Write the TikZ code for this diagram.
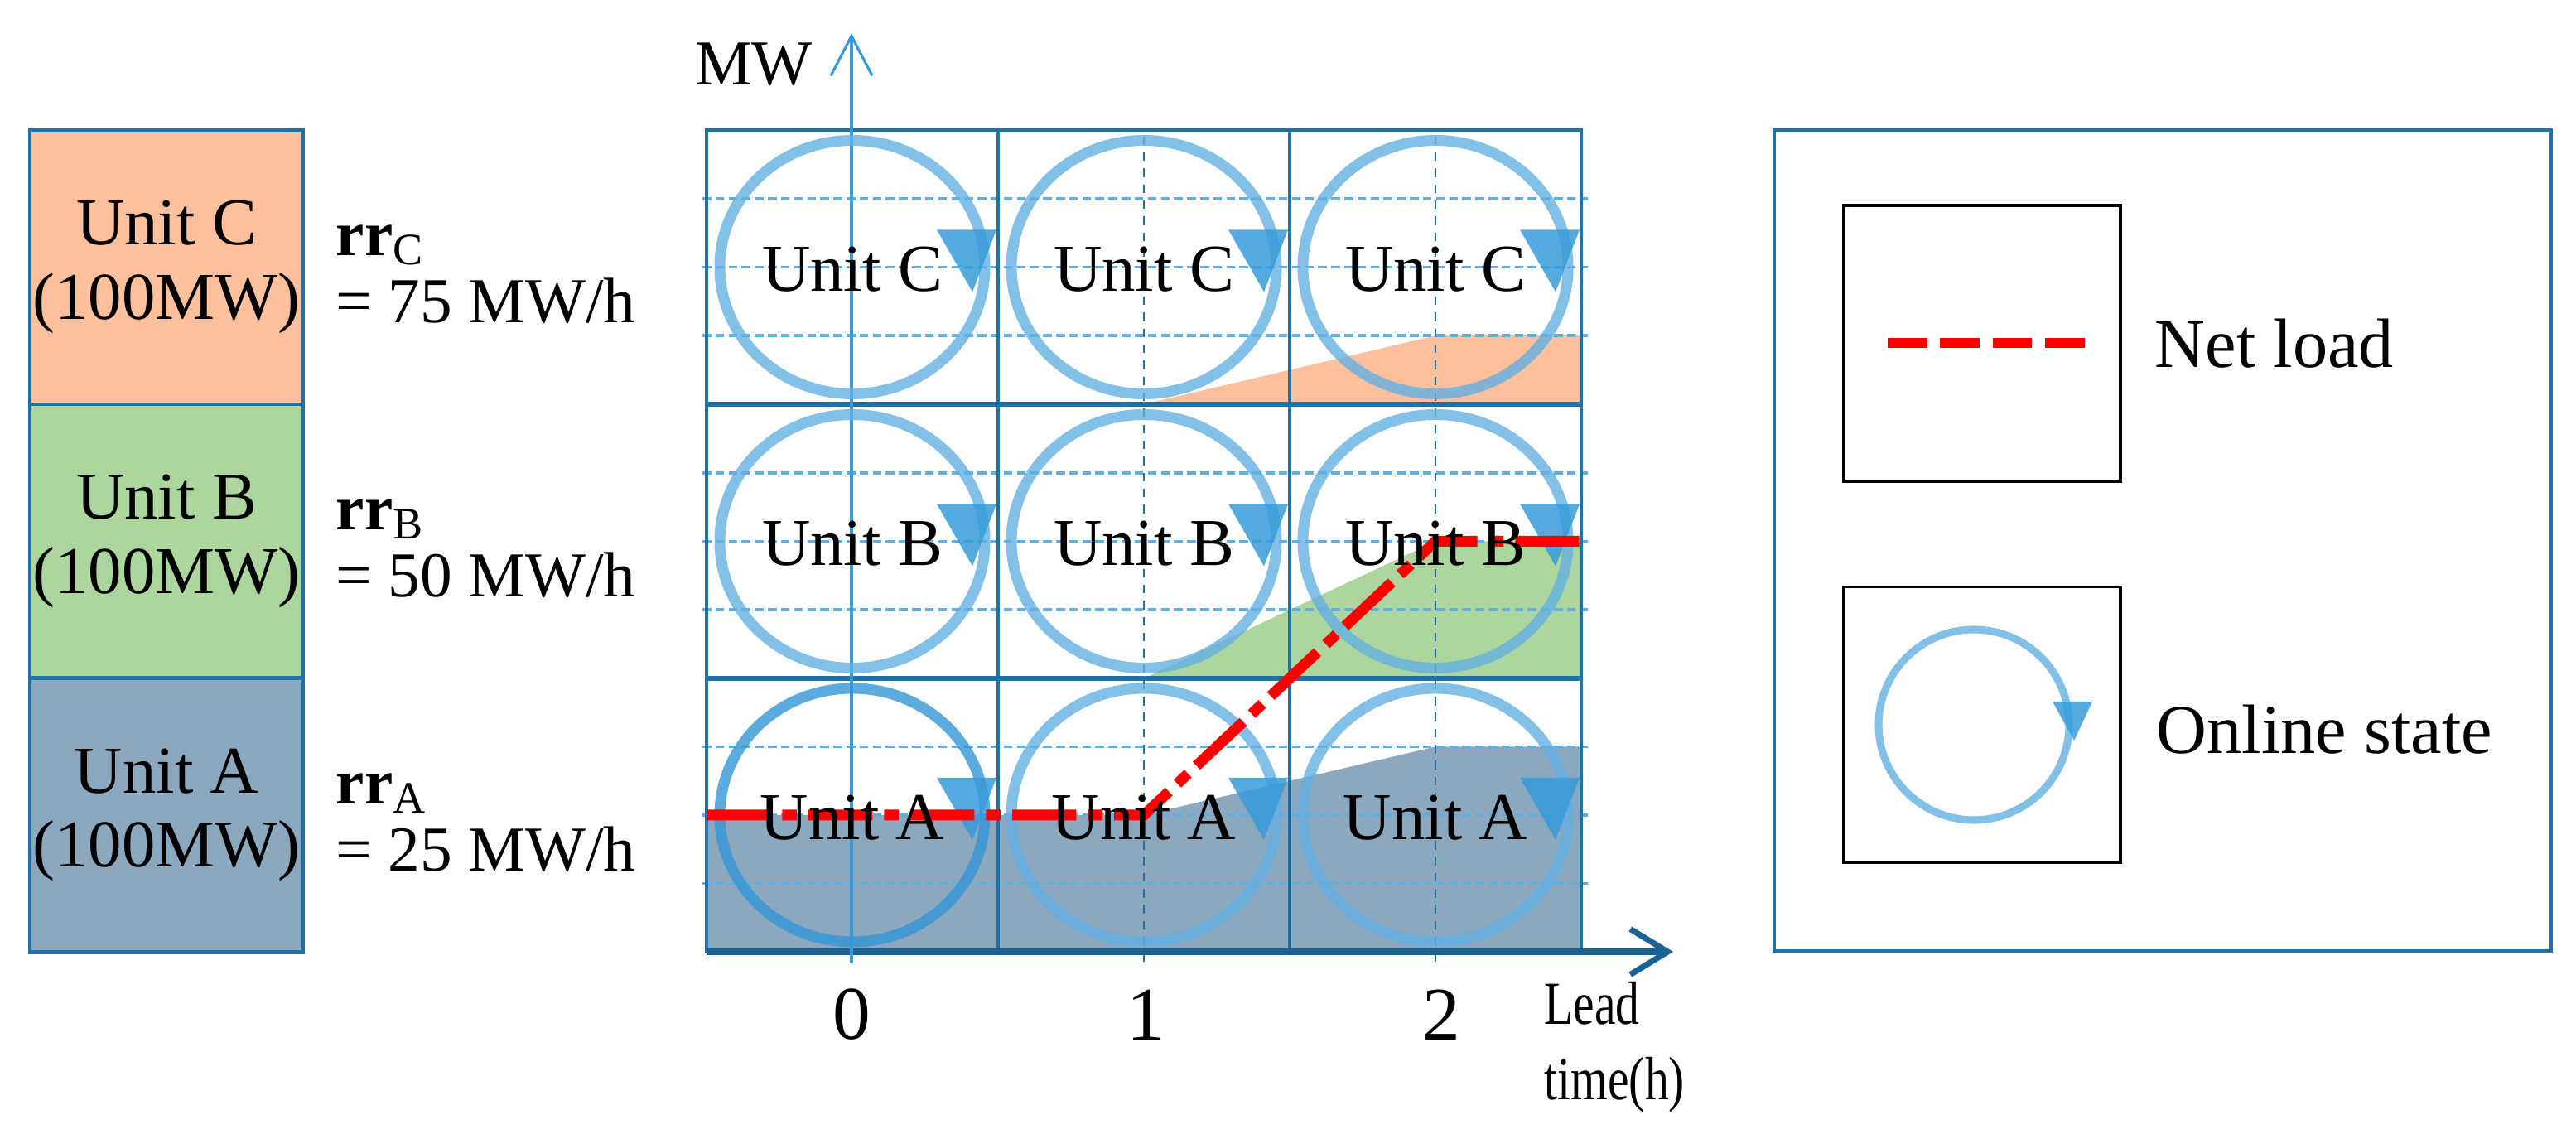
\documentclass[tikz,border=0pt]{standalone}
\usepackage{fontspec}
\setmainfont{Liberation Serif}
\usetikzlibrary{arrows.meta}

\definecolor{unitC}{RGB}{252,192,156}
\definecolor{unitB}{RGB}{172,214,158}
\definecolor{unitA}{RGB}{140,168,191}
\definecolor{gridblue}{RGB}{31,114,168}
\definecolor{axisblue}{RGB}{24,98,148}
\definecolor{ringblue}{RGB}{100,176,226}
\definecolor{ringdark}{RGB}{50,150,215}
\definecolor{tipblue}{RGB}{55,155,218}
\definecolor{dotblue}{RGB}{95,175,225}

\begin{document}
\begin{tikzpicture}[
	unitbox/.style={draw=gridblue,line width=1.2pt,minimum width=3.30cm,minimum height=3.31cm,inner sep=0pt,align=center,font=\fontsize{23}{25.5}\selectfont},
	ramplbl/.style={anchor=west,align=left,inner sep=0pt,font=\fontsize{22}{23}\selectfont},
	celllbl/.style={inner sep=0pt,font=\fontsize{23}{26}\selectfont},
	cell/.style={draw=gridblue,line width=1.4pt},
	quarter/.style={dotblue,line width=1.1pt,dash pattern=on 3pt off 1.5pt},
	hourline/.style={gridblue,line width=0.7pt,dash pattern=on 3pt off 2.5pt},
	ring/.style={draw=ringblue,line width=3.7pt,draw opacity=0.8},
	ringtip/.style={fill=tipblue,fill opacity=0.85},
	netload/.style={red,line width=3.7pt,dash pattern=on 22pt off 4pt on 5pt off 4pt},
	online/.pic={
		\draw[ring] (0,0) ellipse [x radius=1.6, y radius=1.53];
		\fill[ringtip] (1.02,0.45) -- (1.74,0.45) -- (1.45,-0.30) -- cycle;
	},
	keybox/.style={draw=black,line width=1.1pt,minimum width=3.34cm,minimum height=3.33cm,inner sep=0pt},
	keylbl/.style={anchor=west,inner sep=0pt,font=\fontsize{24}{28}\selectfont}
	]
	\useasboundingbox (0,0) rectangle (31.10,13.69);
	
	% unit list with ramp rates
	\node[unitbox,fill=unitC] (boxC) at (2.01,10.465) {Unit C\\(100MW)};
	\node[unitbox,fill=unitB] (boxB) at (2.01,7.155) {Unit B\\(100MW)};
	\node[unitbox,fill=unitA] (boxA) at (2.01,3.85) {Unit A\\(100MW)};
	\node[ramplbl] (rrC) at (4.05,10.38) {\textbf{rr}\textsubscript{C}\\= 75 MW/h};
	\node[ramplbl] (rrB) at (4.05,7.07) {\textbf{rr}\textsubscript{B}\\= 50 MW/h};
	\node[ramplbl] (rrA) at (4.05,3.76) {\textbf{rr}\textsubscript{A}\\= 25 MW/h};
	
	\def\xa{8.53} \def\xb{12.05} \def\xc{15.57} \def\xd{19.09}
	\def\ya{2.20} \def\yb{5.50} \def\yc{8.81} \def\yd{12.12}
	
	% committed output of each unit
	\fill[unitA] (\xa,\ya) -- (\xa,3.85) -- (13.81,3.85) -- (17.33,4.675) -- (\xd,4.675) -- (\xd,\ya) -- cycle;
	\fill[unitB] (13.81,\yb) -- (17.33,7.155) -- (\xd,7.155) -- (\xd,\yb) -- cycle;
	\fill[unitC] (13.81,\yc) -- (17.33,9.6375) -- (\xd,9.6375) -- (\xd,\yc) -- cycle;
	
	\draw[quarter] (8.48,3.025) -- (19.17,3.025) (8.48,3.85) -- (19.17,3.85) (8.48,4.675) -- (19.17,4.675);
	\draw[quarter] (8.48,6.33) -- (19.17,6.33) (8.48,7.155) -- (19.17,7.155) (8.48,7.98) -- (19.17,7.98);
	\draw[quarter] (8.48,9.64) -- (19.17,9.64) (8.48,10.465) -- (19.17,10.465) (8.48,11.29) -- (19.17,11.29);
	\draw[hourline] (13.81,2.08) -- (13.81,\yd) (17.33,2.08) -- (17.33,\yd);
	
	\draw[cell] (\xa,\ya) rectangle (\xd,\yd);
	\draw[cell] (\xb,\ya) -- (\xb,\yd) (\xc,\ya) -- (\xc,\yd);
	\draw[cell,line width=1.8pt] (\xa,\yb) -- (\xd,\yb) (\xa,\yc) -- (\xd,\yc);
	
	% axes
	\coordinate (xstart) at (\xa,\ya);
	\coordinate (xend) at (20.20,\ya);
	\coordinate (ybot) at (10.28,2.06);
	\coordinate (ytop) at (10.28,13.29);
	\draw[axisblue,line width=2pt,-{Straight Barb[length=0.45cm,width=0.55cm]}] (xstart) -- (xend);
	\draw[tipblue,line width=0.9pt,-{Straight Barb[length=0.48cm,width=0.5cm]}] (ybot) -- (ytop);
	
	% online states
	\pic[ring/.append style={draw=ringdark}] at (10.29,3.85) {online};
	\pic at (13.81,3.85) {online};
	\pic at (17.33,3.85) {online};
	\pic at (10.29,7.155) {online};
	\pic at (13.81,7.155) {online};
	\pic at (17.33,7.155) {online};
	\pic at (10.29,10.465) {online};
	\pic at (13.81,10.465) {online};
	\pic at (17.33,10.465) {online};
	
	% net load
	\coordinate (nl0) at (\xa,3.85);
	\coordinate (nl1) at (13.81,3.85);
	\coordinate (nl2) at (17.33,7.155);
	\coordinate (nl3) at (\xd,7.155);
	\draw[netload] (nl0) -- (nl1) -- (nl2) -- (nl3);
	
	\node[celllbl] (a0) at (10.29,3.82) {Unit A};
	\node[celllbl] (a1) at (13.81,3.82) {Unit A};
	\node[celllbl] (a2) at (17.33,3.82) {Unit A};
	\node[celllbl] (b0) at (10.29,7.13) {Unit B};
	\node[celllbl] (b1) at (13.81,7.13) {Unit B};
	\node[celllbl] (b2) at (17.33,7.13) {Unit B};
	\node[celllbl] (c0) at (10.29,10.44) {Unit C};
	\node[celllbl] (c1) at (13.81,10.44) {Unit C};
	\node[celllbl] (c2) at (17.33,10.44) {Unit C};
	
	\node[font=\fontsize{26}{30}\selectfont] (tick0) at (10.28,1.44) {0};
	\node[font=\fontsize{26}{30}\selectfont] (tick1) at (13.83,1.44) {1};
	\node[font=\fontsize{26}{30}\selectfont] (tick2) at (17.40,1.44) {2};
	\node[anchor=west,align=left,inner sep=0pt,xscale=0.78,font=\fontsize{21}{26}\selectfont] (timelbl) at (18.64,1.05) {Lead\\time(h)};
	\node[inner sep=0pt,font=\fontsize{22}{26}\selectfont] (mwlbl) at (9.10,12.91) {MW};
	
	% legend
	\node[draw=gridblue,line width=1.2pt,minimum width=9.38cm,minimum height=9.91cm,inner sep=0pt] (legend) at (26.11,7.165) {};
	\node[keybox] (keynet) at (23.93,9.545) {};
	\node[keybox] (keyon) at (23.93,4.94) {};
	\draw[red,line width=3.2pt,dash pattern=on 13.6pt off 4.4pt] (22.79,9.55) -- (25.17,9.55);
	\draw[ring,line width=2.6pt] (23.83,4.94) circle (1.15);
	\fill[ringtip] (24.78,5.22) -- (25.26,5.22) -- (25.04,4.75) -- cycle;
	\node[keylbl] (netlbl) at (26.01,9.54) {Net load};
	\node[keylbl] (onlbl) at (26.03,4.88) {Online state};
\end{tikzpicture}
\end{document}
